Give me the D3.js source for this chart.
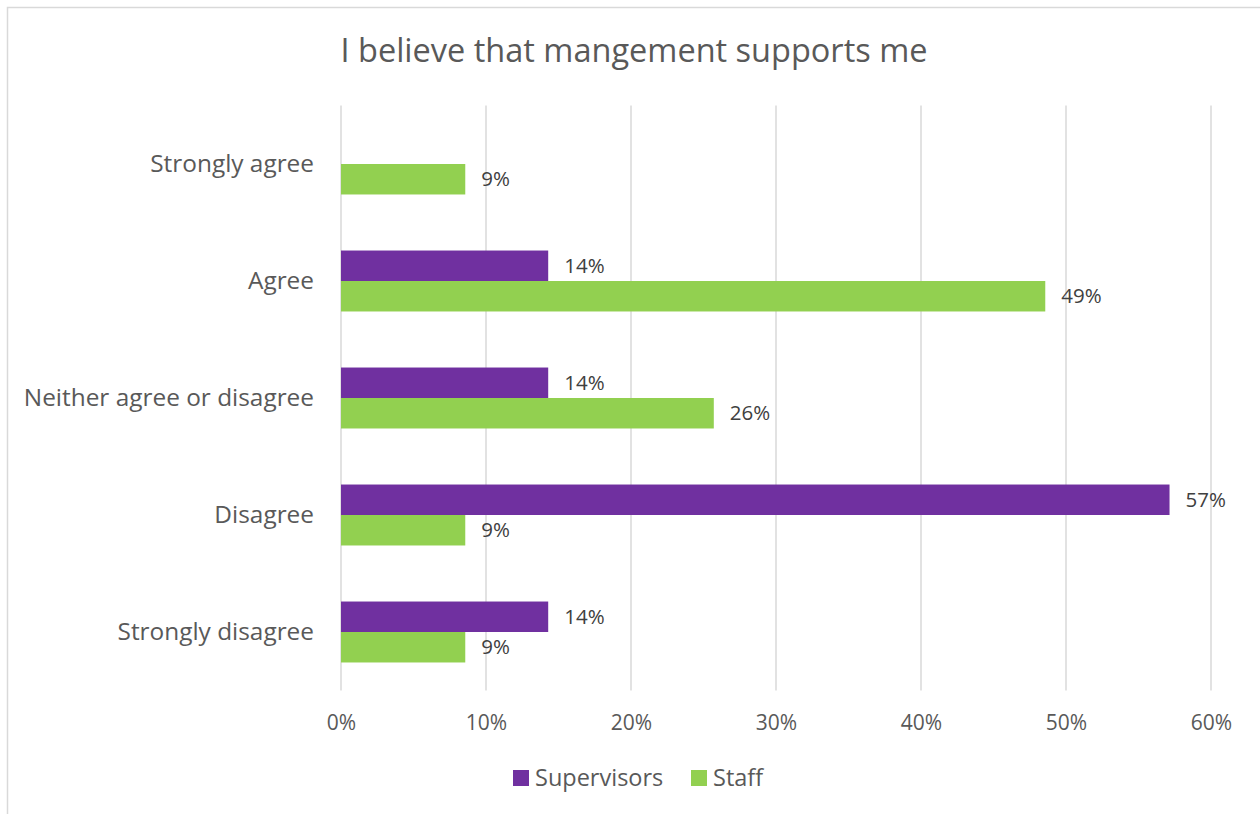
<!DOCTYPE html>
<html>
<head>
<meta charset="utf-8">
<script src="https://cdn.jsdelivr.net/npm/d3@7"></script>
<style>
  html, body { margin: 0; padding: 0; background: #fff; }
  svg { display: block; font-family: "Open Sans", "Noto Sans", sans-serif; }
</style>
</head>
<body>
<svg id="chart" width="1260" height="814"></svg>
<script>
// Survey responses: share of each group choosing each answer
const categories = ["Strongly agree", "Agree", "Neither agree or disagree", "Disagree", "Strongly disagree"];
const seriesNames = ["Supervisors", "Staff"];
const supervisors = [0, 0.1429, 0.1429, 0.5714, 0.1429];
const staff = [0.0857, 0.4857, 0.2571, 0.0857, 0.0857];
const xTicks = [0, 0.1, 0.2, 0.3, 0.4, 0.5, 0.6];
const colors = ["#7030A0", "#92D050"];
const title = "I believe that mangement supports me";

const svg = d3.select("#chart");

// outer chart frame
svg.append("rect")
  .attr("x", 7.5).attr("y", 7.5)
  .attr("width", 1300).attr("height", 900)
  .attr("fill", "#fff").attr("stroke", "#d9d9d9").attr("stroke-width", 1.5);

const plot = { left: 341, right: 1211, top: 105.5, bottom: 690.5 };

const x = d3.scaleLinear().domain([0, 0.6]).range([plot.left, plot.right]);
const y = d3.scaleBand().domain(categories).range([plot.top, plot.bottom]).paddingInner(0.479).paddingOuter(0.2395);
const ySeries = d3.scaleBand().domain(seriesNames).range([0, y.bandwidth()]);

// title
svg.append("text")
  .attr("x", 634).attr("y", 62)
  .attr("text-anchor", "middle")
  .attr("fill", "#595959")
  .attr("font-size", 32.5)
  .text(title);

// vertical gridlines
svg.append("g")
  .selectAll("line")
  .data(xTicks)
  .join("line")
  .attr("x1", d => x(d)).attr("x2", d => x(d))
  .attr("y1", plot.top).attr("y2", plot.bottom)
  .attr("stroke", "#d9d9d9").attr("stroke-width", 1.5);

// x axis tick labels
const xAxis = d3.axisBottom(x).tickValues(xTicks).tickFormat(d3.format(".0%")).tickSize(0).tickPadding(0);
const gx = svg.append("g").attr("transform", `translate(0,${plot.bottom})`).call(xAxis);
gx.select(".domain").remove();
gx.selectAll("text")
  .attr("y", 39).attr("dy", null)
  .attr("fill", "#595959")
  .attr("font-size", 21)
  .attr("font-family", "Open Sans, sans-serif");

// category labels
const yAxis = d3.axisLeft(y).tickSize(0).tickPadding(0);
const gy = svg.append("g").attr("transform", `translate(314,0)`).call(yAxis);
gy.select(".domain").remove();
gy.selectAll("text")
  .attr("x", 0).attr("dy", "0.33em")
  .attr("fill", "#595959")
  .attr("font-size", 24.4)
  .attr("font-family", "Open Sans, sans-serif");

// bars
const rows = categories.map((c, i) => ({ cat: c, values: [supervisors[i], staff[i]] }));
const groups = svg.append("g").selectAll("g")
  .data(rows).join("g")
  .attr("transform", d => `translate(0,${y(d.cat)})`);

groups.selectAll("rect")
  .data(d => d.values.map((v, j) => ({ name: seriesNames[j], v, j })))
  .join("rect")
  .attr("x", x(0))
  .attr("y", d => ySeries(d.name))
  .attr("width", d => x(d.v) - x(0))
  .attr("height", ySeries.bandwidth())
  .attr("fill", d => colors[d.j]);

// value labels (skip empty bars)
groups.selectAll("text")
  .data(d => d.values.map((v, j) => ({ name: seriesNames[j], v, j })).filter(d => d.v > 0))
  .join("text")
  .attr("x", d => x(d.v) + 16)
  .attr("y", d => ySeries(d.name) + ySeries.bandwidth() / 2)
  .attr("dy", "0.35em")
  .attr("fill", "#404040")
  .attr("font-size", 20.5)
  .text(d => d3.format(".0%")(d.v));

// legend
const legend = svg.append("g").attr("transform", "translate(513,778)");
const legendX = [0, 178];
seriesNames.forEach((name, i) => {
  const g = legend.append("g").attr("transform", `translate(${legendX[i]},0)`);
  g.append("rect").attr("x", 0).attr("y", -8).attr("width", 16).attr("height", 16).attr("fill", colors[i]);
  g.append("text").attr("x", 22).attr("y", 0).attr("dy", "0.35em")
    .attr("fill", "#595959").attr("font-size", 23.5).text(name);
});
</script>
</body>
</html>
